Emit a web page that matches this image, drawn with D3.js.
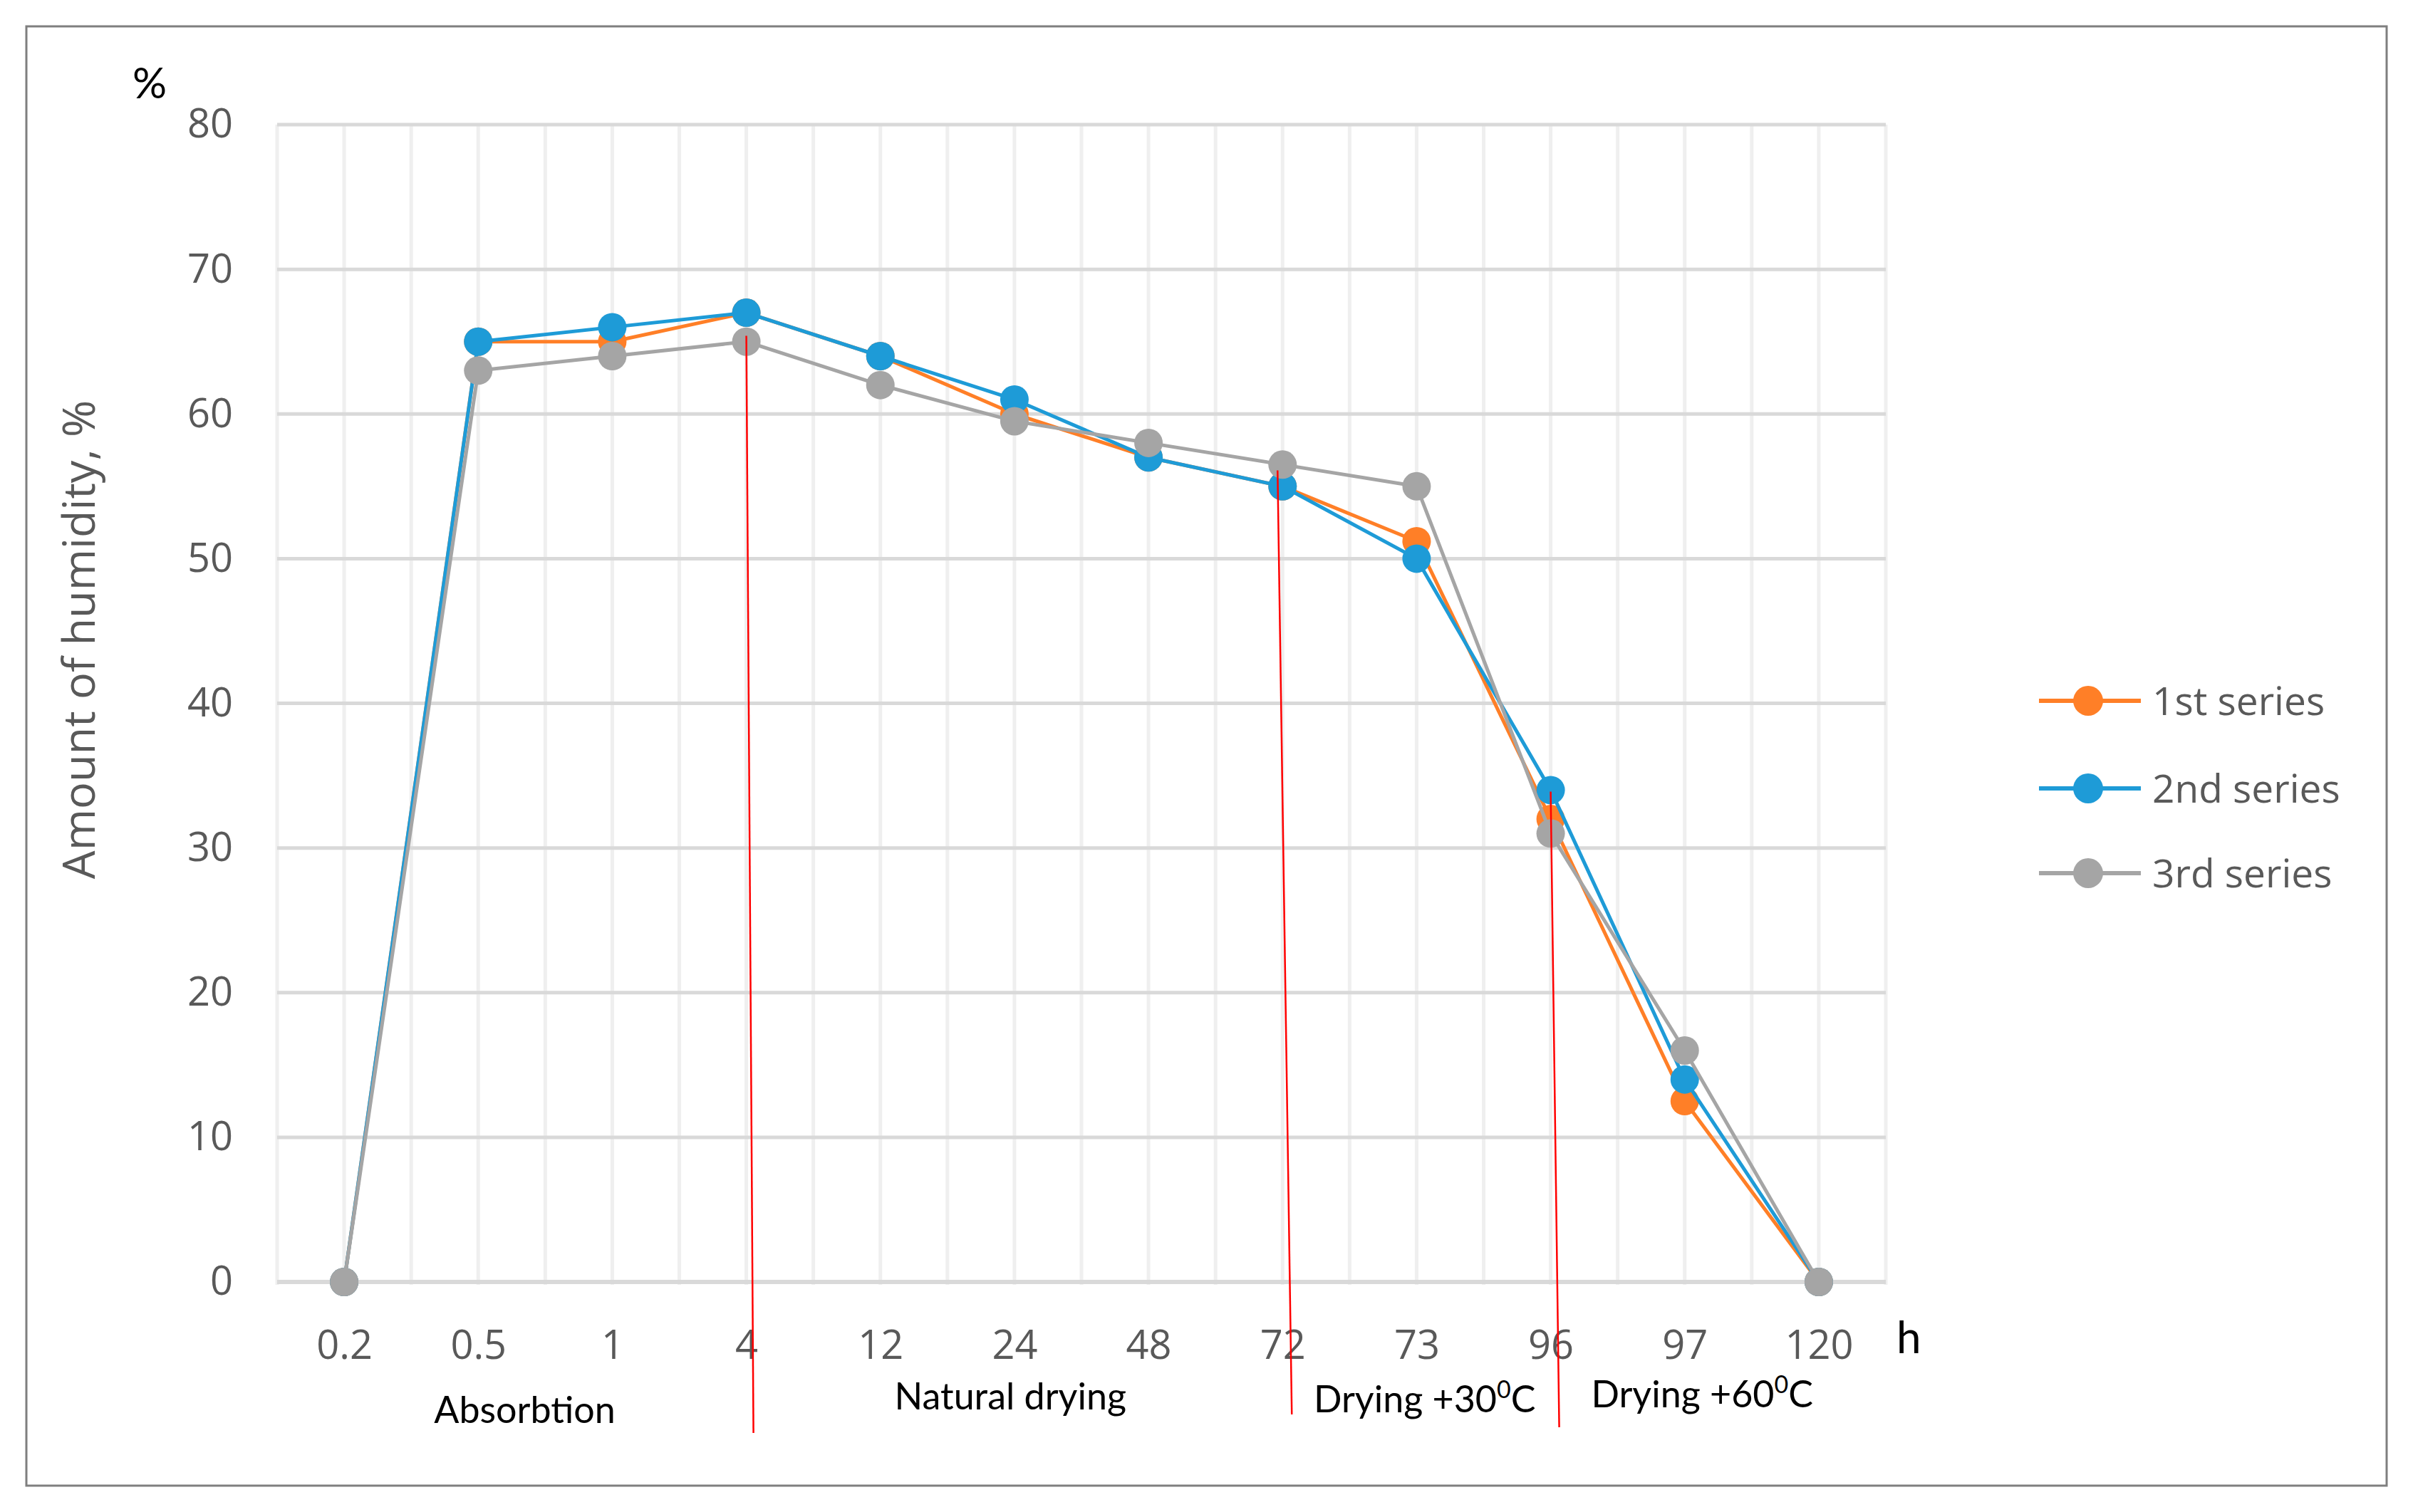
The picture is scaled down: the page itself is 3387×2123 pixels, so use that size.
<!DOCTYPE html>
<html>
<head>
<meta charset="utf-8">
<script src="https://cdn.jsdelivr.net/npm/d3@7"></script>
<style>
  html, body { margin: 0; padding: 0; background: #fff; }
  svg { display: block; }
</style>
</head>
<body>
<script>
// ---------------- DATA ----------------
const categories = ["0.2", "0.5", "1", "4", "12", "24", "48", "72", "73", "96", "97", "120"];
const series1 = [0, 65, 65, 67, 64, 60, 57, 55, 51.2, 32, 12.5, 0];
const series2 = [0, 65, 66, 67, 64, 61, 57, 55, 50, 34, 14, 0];
const series3 = [0, 63, 64, 65, 62, 59.5, 58, 56.5, 55, 31, 16, 0];
const seriesNames = ["1st series", "2nd series", "3rd series"];
const yTicks = [0, 10, 20, 30, 40, 50, 60, 70, 80];
const phaseNames = ["Absorbtion", "Natural drying", "Drying +30", "Drying +60"];
const dividerCats = ["4", "72", "96"];
const dividerTops = [65.4, 56.1, 33.9];

// ---------------- LAYOUT ----------------
const W = 3387, H = 2123;
const plot = { left: 389, right: 2647, top: 175, bottom: 1800 };
const colors = ["#FF7F27", "#1E9BD7", "#A5A5A5"];
const tickFont = "'Open Sans', 'Noto Sans', sans-serif";
const labelFont = "Lato, 'Open Sans', sans-serif";

const svg = d3.select("body").append("svg")
  .attr("width", W).attr("height", H);

svg.append("rect").attr("width", W).attr("height", H).attr("fill", "#fff");
// outer border
svg.append("rect")
  .attr("x", 37).attr("y", 37).attr("width", 3313).attr("height", 2049)
  .attr("fill", "none").attr("stroke", "#7f7f7f").attr("stroke-width", 3);

const x = d3.scalePoint().domain(categories).range([plot.left, plot.right]).padding(0.5);
const step = x.step();
const xf = i => x(categories[0]) + i * step; // fractional category position
const y = d3.scaleLinear().domain([0, 80]).range([plot.bottom, plot.top]);

// vertical minor gridlines (every half category)
const vGrid = d3.range(0, categories.length * 2 + 1).map(k => plot.left + k * step / 2);
svg.append("g").selectAll("line").data(vGrid).join("line")
  .attr("x1", d => d).attr("x2", d => d)
  .attr("y1", y(80)).attr("y2", y(0) + 4)
  .attr("stroke", "#efefef").attr("stroke-width", 5);

// horizontal major gridlines
svg.append("g").selectAll("line").data(yTicks).join("line")
  .attr("x1", plot.left).attr("x2", plot.right)
  .attr("y1", d => y(d)).attr("y2", d => y(d))
  .attr("stroke", "#d9d9d9").attr("stroke-width", d => d === 0 ? 6 : 5);

// y axis labels
const yAxis = svg.append("g").attr("transform", `translate(${plot.left},0)`)
  .call(d3.axisLeft(y).tickValues(yTicks).tickSize(0).tickPadding(62));
yAxis.select(".domain").remove();
yAxis.selectAll("text").attr("font-family", tickFont).attr("font-size", 56).attr("fill", "#595959");

// x axis labels
const xAxis = svg.append("g").attr("transform", `translate(0,${plot.bottom})`)
  .call(d3.axisBottom(x).tickSize(0).tickPadding(68));
xAxis.select(".domain").remove();
xAxis.selectAll("text").attr("font-family", tickFont).attr("font-size", 56).attr("fill", "#595959");

// series
const allSeries = [series1, series2, series3];
const line = d3.line().x((d, i) => x(categories[i])).y(d => y(d));
allSeries.forEach((s, si) => {
  const g = svg.append("g");
  g.append("path").datum(s)
    .attr("d", line).attr("fill", "none")
    .attr("stroke", colors[si]).attr("stroke-width", 5).attr("stroke-linejoin", "round");
  g.selectAll("circle").data(s).join("circle")
    .attr("cx", (d, i) => x(categories[i])).attr("cy", d => y(d))
    .attr("r", 20).attr("fill", colors[si]);
});

// red divider lines
const divOffsets = [{ dt: 0, db: 10, bottom: 2012 }, { dt: -7, db: 13, bottom: 1986 }, { dt: 0, db: 12, bottom: 2004 }];
dividerCats.forEach((c, i) => {
  svg.append("line")
    .attr("x1", x(c) + divOffsets[i].dt).attr("y1", y(dividerTops[i]))
    .attr("x2", x(c) + divOffsets[i].db).attr("y2", divOffsets[i].bottom)
    .attr("stroke", "#ff0000").attr("stroke-width", 2.5);
});

// phase labels
const phasePos = [{ i: 1.347, yb: 1998 }, { i: 4.97, yb: 1979 }, { i: 8.06, yb: 1983 }, { i: 10.13, yb: 1976 }];
phaseNames.forEach((p, k) => {
  const t = svg.append("text")
    .attr("x", xf(phasePos[k].i)).attr("y", phasePos[k].yb)
    .attr("text-anchor", "middle")
    .attr("font-family", labelFont).attr("font-size", 52).attr("fill", "#000");
  t.append("tspan").text(p);
  if (k >= 2) {
    t.append("tspan").text("0").attr("font-size", 34).attr("dy", -20);
    t.append("tspan").text("C").attr("dy", 20);
  }
});

// axis unit labels
svg.append("text").attr("x", 210).attr("y", 138).attr("text-anchor", "middle")
  .attr("font-family", labelFont).attr("font-size", 60).attr("fill", "#000").text("%");
svg.append("text").attr("x", 2662).attr("y", 1900)
  .attr("font-family", labelFont).attr("font-size", 62).attr("fill", "#000").text("h");

// y axis title
svg.append("text")
  .attr("transform", "translate(133,898) rotate(-90)")
  .attr("text-anchor", "middle")
  .attr("font-family", tickFont).attr("font-size", 63).attr("fill", "#595959")
  .text("Amount of humidity, %");

// legend
const legendY = [984, 1107, 1226];
seriesNames.forEach((n, i) => {
  const g = svg.append("g").attr("transform", `translate(0,${legendY[i]})`);
  g.append("line").attr("x1", 2862).attr("x2", 3005).attr("y1", 0).attr("y2", 0)
    .attr("stroke", colors[i]).attr("stroke-width", 6);
  g.append("circle").attr("cx", 2931).attr("cy", 0).attr("r", 21).attr("fill", colors[i]);
  g.append("text").attr("x", 3021).attr("y", 0).attr("dy", "0.36em")
    .attr("font-family", tickFont).attr("font-size", 55).attr("fill", "#595959").text(n);
});
</script>
</body>
</html>
